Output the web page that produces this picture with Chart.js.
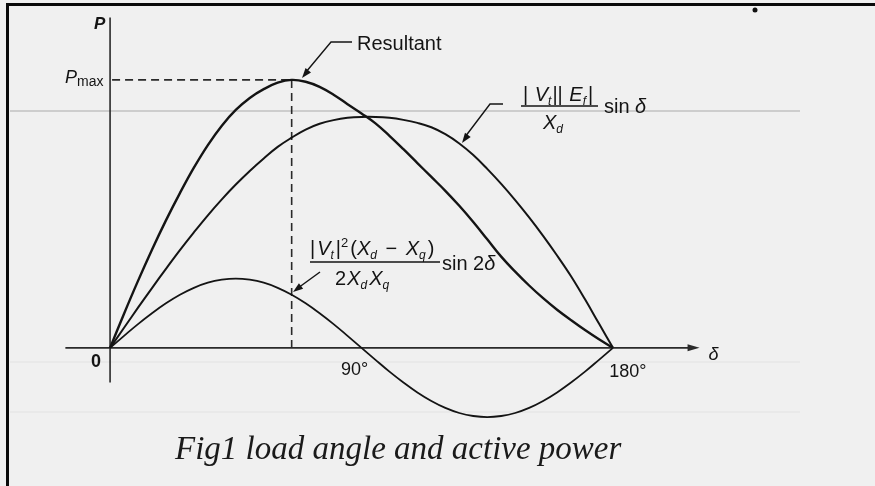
<!DOCTYPE html>
<html>
<head>
<meta charset="utf-8">
<script src="https://cdn.jsdelivr.net/npm/chart.js@4.4.1/dist/chart.umd.min.js"></script>
<style>
html,body{margin:0;padding:0;background:#f0f0f0;overflow:hidden}
canvas{display:block}
</style>
</head>
<body>
<canvas id="c" width="875" height="486"></canvas>
<script>
// Load angle δ (degrees)
const loadAngleDeg = [0,5,10,15,20,25,30,35,40,45,50,55,60,65,70,75,80,85,90,95,100,105,110,115,120,125,130,135,140,145,150,155,160,165,170,175,180];
// |Vt||Ef|/Xd sin δ  (peak ≈ 1)
const fieldPower = [0,0.087,0.174,0.259,0.342,0.423,0.500,0.574,0.643,0.707,0.766,0.820,0.870,0.910,0.945,0.970,0.986,0.996,1.000,1.000,0.996,0.987,0.974,0.955,0.925,0.885,0.835,0.775,0.710,0.640,0.565,0.485,0.400,0.310,0.210,0.105,0];
// |Vt|²(Xd−Xq)/(2XdXq) sin 2δ
const reluctancePower = [0,0.052,0.103,0.150,0.193,0.230,0.260,0.282,0.295,0.300,0.295,0.282,0.260,0.230,0.193,0.150,0.103,0.052,0,-0.052,-0.103,-0.150,-0.193,-0.230,-0.260,-0.282,-0.295,-0.300,-0.295,-0.282,-0.260,-0.230,-0.193,-0.150,-0.103,-0.052,0];
// Resultant
const resultantPower = [0,0.148,0.290,0.425,0.552,0.670,0.780,0.878,0.962,1.030,1.082,1.120,1.148,1.160,1.152,1.130,1.096,1.055,1.015,0.972,0.918,0.860,0.800,0.740,0.680,0.615,0.545,0.470,0.395,0.330,0.270,0.215,0.165,0.120,0.077,0.037,0];
// Axis tick labels
const angleTickValues = [0, 90, 180];
const angleTickLabels = ['0', '90°', '180°'];

const toXY = arr => loadAngleDeg.map((d, i) => ({x: d, y: arr[i]}));

const SANS = '"Liberation Sans", Arial, sans-serif';
const SERIF = '"Liberation Serif", "Times New Roman", serif';
const INK = '#141414';

function runs(ctx, x, y, parts) {
  let cx = x;
  for (const p of parts) {
    ctx.font = p.f;
    ctx.fillText(p.t, cx, y + (p.dy || 0));
    cx += ctx.measureText(p.t).width + (p.sp || 0);
  }
  return cx;
}
function arrowHead(ctx, x1, y1, x2, y2, len, hw) {
  const a = Math.atan2(y2 - y1, x2 - x1);
  ctx.beginPath();
  ctx.moveTo(x2, y2);
  ctx.lineTo(x2 - len * Math.cos(a) + hw * Math.sin(a), y2 - len * Math.sin(a) - hw * Math.cos(a));
  ctx.lineTo(x2 - len * Math.cos(a) - hw * Math.sin(a), y2 - len * Math.sin(a) + hw * Math.cos(a));
  ctx.closePath();
  ctx.fill();
}
function peakIndex() {
  let iMax = 0;
  resultantPower.forEach((v, i) => { if (v > resultantPower[iMax]) iMax = i; });
  return iMax;
}

const decor = {
  id: 'decor',
  beforeDraw(chart) {
    const ctx = chart.ctx;
    ctx.save();
    ctx.fillStyle = '#f0f0f0';
    ctx.fillRect(0, 0, chart.width, chart.height);
    // faint scan rule lines
    ctx.strokeStyle = '#cdcdcd';
    ctx.lineWidth = 2;
    ctx.beginPath(); ctx.moveTo(10, 111); ctx.lineTo(800, 111); ctx.stroke();
    ctx.strokeStyle = '#e7e7e7';
    ctx.lineWidth = 1.5;
    ctx.beginPath(); ctx.moveTo(10, 362); ctx.lineTo(800, 362); ctx.stroke();
    ctx.beginPath(); ctx.moveTo(10, 412); ctx.lineTo(800, 412); ctx.stroke();
    // frame
    ctx.strokeStyle = '#0a0a0a';
    ctx.lineWidth = 3;
    ctx.beginPath(); ctx.moveTo(7.5, 486); ctx.lineTo(7.5, 4.5); ctx.lineTo(875, 4.5); ctx.stroke();
    // speck
    ctx.fillStyle = '#111';
    ctx.beginPath(); ctx.arc(755, 10, 2.5, 0, Math.PI * 2); ctx.fill();
    ctx.restore();
  },
  beforeDatasetsDraw(chart) {
    const ctx = chart.ctx, xs = chart.scales.x, ys = chart.scales.y;
    const x0 = xs.getPixelForValue(0), y0 = ys.getPixelForValue(0);
    ctx.save();
    ctx.strokeStyle = '#2a2a2a';
    ctx.fillStyle = '#2a2a2a';
    ctx.lineWidth = 1.6;
    // δ axis
    const xa = xs.getPixelForValue(-16), xb = xs.getPixelForValue(211);
    ctx.beginPath(); ctx.moveTo(xa, y0); ctx.lineTo(xb - 6, y0); ctx.stroke();
    arrowHead(ctx, xa, y0, xb, y0, 12, 3.5);
    // P axis
    ctx.beginPath();
    ctx.moveTo(x0, ys.getPixelForValue(1.43));
    ctx.lineTo(x0, ys.getPixelForValue(-0.15));
    ctx.stroke();
    // Pmax dashed guides
    const iMax = peakIndex();
    const px = xs.getPixelForValue(loadAngleDeg[iMax]);
    const py = ys.getPixelForValue(resultantPower[iMax]);
    ctx.setLineDash([8, 5]);
    ctx.lineWidth = 1.6;
    ctx.beginPath(); ctx.moveTo(x0 + 2, py); ctx.lineTo(px, py); ctx.stroke();
    ctx.beginPath(); ctx.moveTo(px, py); ctx.lineTo(px, y0); ctx.stroke();
    ctx.setLineDash([]);
    ctx.restore();
  },
  afterDatasetsDraw(chart) {
    const ctx = chart.ctx, xs = chart.scales.x, ys = chart.scales.y;
    const x0 = xs.getPixelForValue(0), y0 = ys.getPixelForValue(0);
    const py = ys.getPixelForValue(resultantPower[peakIndex()]);
    ctx.save();
    ctx.fillStyle = INK;
    ctx.strokeStyle = INK;
    ctx.textBaseline = 'alphabetic';
    ctx.textAlign = 'left';

    // Axis names
    ctx.font = 'italic bold 17px ' + SANS;
    ctx.fillText('P', x0 - 16, 29);
    runs(ctx, x0 - 45, py + 3, [
      {t: 'P', f: 'italic 18px ' + SANS},
      {t: 'max', f: '14px ' + SANS, dy: 3}
    ]);
    ctx.font = 'italic 18px ' + SANS;
    ctx.fillText('δ', xs.getPixelForValue(211) + 9, y0 + 12);

    // Tick labels
    ctx.textAlign = 'center';
    const tickOffsets = [[-14, 19], [-7, 27], [15, 29]];
    angleTickValues.forEach((v, i) => {
      ctx.font = (i === 0 ? 'bold ' : '') + '18px ' + SANS;
      ctx.fillText(angleTickLabels[i], xs.getPixelForValue(v) + tickOffsets[i][0], y0 + tickOffsets[i][1]);
    });
    ctx.textAlign = 'left';

    // Resultant label + leader
    ctx.font = '20px ' + SANS;
    ctx.fillText('Resultant', 357, 50);
    ctx.lineWidth = 1.4;
    ctx.beginPath(); ctx.moveTo(352, 42); ctx.lineTo(331, 42); ctx.lineTo(306, 72); ctx.stroke();
    arrowHead(ctx, 331, 42, 302, 78, 10, 3.5);

    // |Vt||Ef|/Xd sin δ
    const it = 'italic 20px ' + SANS, rg = '20px ' + SANS, sb = 'italic 12px ' + SANS;
    runs(ctx, 523, 101, [
      {t: '| ', f: rg, sp: 1}, {t: 'V', f: it}, {t: 't', f: sb, dy: 4, sp: 1}, {t: '|| ', f: rg, sp: 1},
      {t: 'E', f: it}, {t: 'f', f: sb, dy: 4, sp: 2}, {t: '|', f: rg}
    ]);
    ctx.lineWidth = 1.6;
    ctx.beginPath(); ctx.moveTo(521, 106); ctx.lineTo(598, 106); ctx.stroke();
    runs(ctx, 543, 129, [{t: 'X', f: it}, {t: 'd', f: sb, dy: 4}]);
    runs(ctx, 604, 113, [{t: 'sin ', f: rg}, {t: 'δ', f: it}]);
    ctx.lineWidth = 1.4;
    ctx.beginPath(); ctx.moveTo(503, 104); ctx.lineTo(490, 104); ctx.lineTo(465, 137); ctx.stroke();
    arrowHead(ctx, 490, 104, 462, 143, 10, 3.5);

    // |Vt|²(Xd−Xq)/(2XdXq) sin 2δ
    const it2 = 'italic 20px ' + SANS, rg2 = '20px ' + SANS, sb2 = 'italic 12px ' + SANS;
    runs(ctx, 310, 255, [
      {t: '|', f: rg2, sp: 2}, {t: 'V', f: it2}, {t: 't', f: sb2, dy: 4, sp: 2}, {t: '|', f: rg2},
      {t: '2', f: '13px ' + SANS, dy: -8, sp: 2}, {t: '(', f: rg2}, {t: 'X', f: it2},
      {t: 'd', f: sb2, dy: 4, sp: 3}, {t: ' − ', f: rg2, sp: 3}, {t: 'X', f: it2}, {t: 'q', f: sb2, dy: 4, sp: 2},
      {t: ')', f: rg2}
    ]);
    ctx.lineWidth = 1.6;
    ctx.beginPath(); ctx.moveTo(310, 262); ctx.lineTo(440, 262); ctx.stroke();
    runs(ctx, 335, 285, [
      {t: '2', f: rg2, sp: 1}, {t: 'X', f: it2}, {t: 'd', f: sb2, dy: 4, sp: 2},
      {t: 'X', f: it2}, {t: 'q', f: sb2, dy: 4}
    ]);
    runs(ctx, 442, 270, [{t: 'sin 2', f: rg2}, {t: 'δ', f: it2}]);
    ctx.lineWidth = 1.4;
    ctx.beginPath(); ctx.moveTo(320, 272); ctx.lineTo(298, 288); ctx.stroke();
    arrowHead(ctx, 320, 272, 293, 292, 10, 3.5);

    // Caption
    ctx.font = 'italic 33px ' + SERIF;
    ctx.fillStyle = '#1a1a1a';
    ctx.fillText('Fig1 load angle and active power', 175, 459);
    ctx.restore();
  }
};

const lineStyle = {borderColor: INK, pointRadius: 0, fill: false, tension: 0.4};

new Chart(document.getElementById('c'), {
  type: 'line',
  data: {
    datasets: [
      Object.assign({label: 'Resultant', data: toXY(resultantPower), borderWidth: 2.4}, lineStyle),
      Object.assign({label: '|Vt||Ef|/Xd sin δ', data: toXY(fieldPower), borderWidth: 2.0}, lineStyle),
      Object.assign({label: '|Vt|²(Xd−Xq)/(2XdXq) sin 2δ', data: toXY(reluctancePower), borderWidth: 1.8}, lineStyle)
    ]
  },
  options: {
    responsive: false,
    devicePixelRatio: 1,
    animation: false,
    layout: {padding: 0},
    plugins: {legend: {display: false}, tooltip: {enabled: false}},
    scales: {
      x: {type: 'linear', min: -39.4, max: 273.8, display: false},
      y: {type: 'linear', min: -0.598, max: 1.506, display: false}
    }
  },
  plugins: [decor]
});
</script>
</body>
</html>
